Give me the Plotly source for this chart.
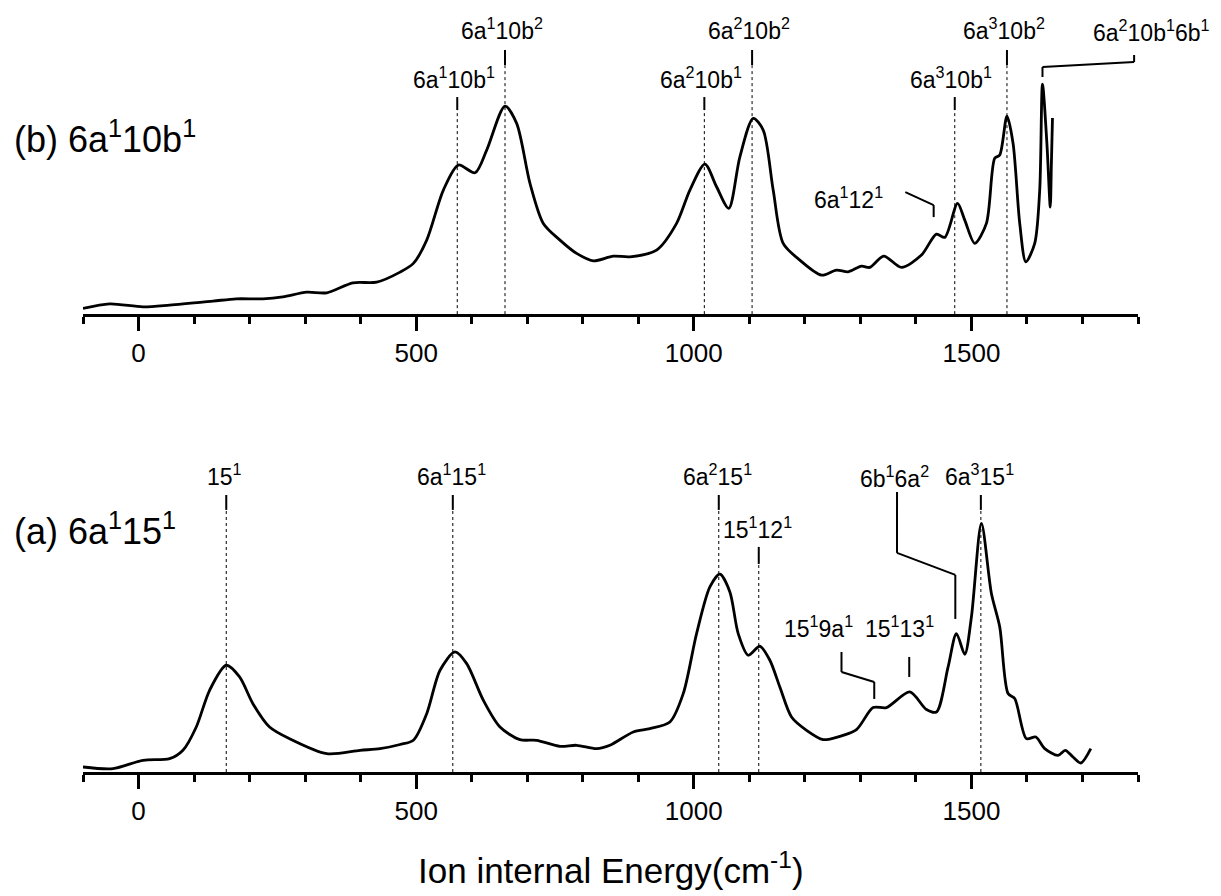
import plotly.graph_objects as go

# ---------------- data ----------------
# (b) 6a1 10b1 spectrum : ion internal energy (cm-1) vs intensity (a.u.)
E_b = [-100, -52, 8, 56, 134, 176, 224, 260, 303, 339, 386, 429, 471, 495, 519, 549, 576, 606,
       627, 660, 681, 705, 729, 759, 789, 819, 855, 885, 933, 969, 993, 1020, 1041, 1063, 1083,
       1107, 1125, 1143, 1161, 1191, 1230, 1257, 1278, 1302, 1317, 1342, 1374, 1410, 1437, 1452,
       1475, 1488, 1506, 1527, 1542, 1551, 1564, 1575, 1587, 1598, 1614, 1623, 1628, 1636, 1642, 1644, 1646]
I_b = [5.7, 10.3, 7.3, 9, 13, 15.3, 15.3, 17.3, 22, 21.3, 31.3, 32, 42, 50.7, 74, 124, 149, 141.3,
       164, 208, 190.7, 130.7, 90.7, 74, 60.7, 53.3, 58, 57.3, 64, 90.7, 124, 150, 127.3, 105.7, 157.3,
       195.7, 184, 124, 70.7, 54, 39, 44, 42.3, 48, 46.7, 58, 46.7, 59, 80, 76.7,
       110.7, 94, 70.7, 90.7, 155.7, 159, 198, 170.7, 90.7, 52.3, 70.7, 124, 230, 170, 107, 150, 196]

# (a) 6a1 15 1 spectrum
E_a = [-100, -46, 8, 56, 80, 104, 128, 158, 182, 206, 236, 272, 339, 399, 435, 471, 495, 519, 543,
       570, 591, 621, 651, 687, 717, 759, 789, 825, 849, 891, 921, 957, 981, 1005, 1029, 1047, 1065,
       1080, 1098, 1119, 1137, 1155, 1176, 1203, 1233, 1263, 1293, 1323, 1347, 1389, 1419, 1437,
       1458, 1473, 1488, 1500, 1518, 1536, 1551, 1566, 1578, 1599, 1616, 1632, 1656, 1669, 1683, 1697, 1715]
I_a = [5, 3.3, 11.7, 13.3, 21.7, 45, 81.7, 106.7, 95, 68.3, 45, 33.3, 18.3, 21.7, 23.3, 27.5, 31.7, 58.3, 101.7,
       120, 108.3, 71.7, 45, 32.3, 31.7, 25.7, 26.7, 23.3, 26.7, 40, 43.3, 50, 78.3, 138.3, 185, 197.7, 180,
       138.3, 116.7, 125.7, 111.7, 85, 55, 41.7, 32.4, 35.7, 42.4, 64.4, 64.4, 80, 62.4, 60,
       105, 138.4, 117.7, 155, 248.4, 178.4, 145, 78.4, 73.4, 33.4, 35, 23.4, 16.7, 21.7, 15, 9, 23.4]

# assignments with dotted guide lines
top_labels = ["6a<sup>1</sup>10b<sup>1</sup>", "6a<sup>1</sup>10b<sup>2</sup>", "6a<sup>2</sup>10b<sup>1</sup>",
              "6a<sup>2</sup>10b<sup>2</sup>", "6a<sup>3</sup>10b<sup>1</sup>", "6a<sup>3</sup>10b<sup>2</sup>"]
top_E = [574, 660, 1019, 1105, 1470, 1564]
top_row = [0, 1, 0, 1, 0, 1]          # 0 = lower row, 1 = upper row

bot_labels = ["15<sup>1</sup>", "6a<sup>1</sup>15<sup>1</sup>", "6a<sup>2</sup>15<sup>1</sup>",
              "15<sup>1</sup>12<sup>1</sup>", "6a<sup>3</sup>15<sup>1</sup>"]
bot_E = [158, 566, 1045, 1117, 1517]
bot_row = [1, 1, 1, 0, 1]

# ---------------- figure ----------------
W, H = 1221, 896
L, R, T, B = 83.2, 82.8, 0, 124.3
AX_TOP_PX, AX_BOT_PX = 314, 771.7
ph = H - T - B
pw = W - L - R
top_dom0 = (H - B - AX_TOP_PX) / ph
bot_dom1 = (H - B - 440) / ph
ytop_max = AX_TOP_PX - T
ybot_max = AX_BOT_PX - 440

FONT = "Arial, Liberation Sans, sans-serif"
fig = go.Figure()
line = dict(color="black", width=2.8, shape="spline", smoothing=0.8)
fig.add_trace(go.Scatter(x=E_b, y=I_b, mode="lines", line=line, xaxis="x2", yaxis="y2", hoverinfo="skip"))
fig.add_trace(go.Scatter(x=E_a, y=I_a, mode="lines", line=line, xaxis="x", yaxis="y", hoverinfo="skip"))

xax = dict(range=[-100, 1800], showline=True, linewidth=3, linecolor="black", ticks="outside",
           ticklen=14, tickwidth=3, tickcolor="black", tick0=0, dtick=500, showgrid=False, zeroline=False,
           minor=dict(dtick=100, ticks="outside", ticklen=7, tickwidth=3, tickcolor="black", showgrid=False),
           tickfont=dict(family=FONT, size=26, color="black"))
fig.update_layout(
    width=W, height=H, margin=dict(l=L, r=R, t=T, b=B),
    paper_bgcolor="white", plot_bgcolor="white", showlegend=False,
    xaxis=dict(xax, domain=[0, 1], anchor="y"),
    yaxis=dict(domain=[0, bot_dom1], range=[0, ybot_max], visible=False),
    xaxis2=dict(xax, domain=[0, 1], anchor="y2"),
    yaxis2=dict(domain=[top_dom0, 1], range=[0, ytop_max], visible=False),
)

shapes, annots = [], []
def seg(x0, y0, x1, y1, ax, dash=None, width=2):
    xr, yr = ("x2", "y2") if ax == "top" else ("x", "y")
    ln = dict(color="black", width=width)
    if dash:
        ln["dash"] = dash
    shapes.append(dict(type="line", xref=xr, yref=yr, x0=x0, y0=y0, x1=x1, y1=y1, line=ln))
def txt(x, y, s, ax, size=23, xanchor="center", xref=None):
    xr, yr = ("x2", "y2") if ax == "top" else ("x", "y")
    annots.append(dict(x=x, y=y, xref=xref or xr, yref=yr, text=s, showarrow=False, xanchor=xanchor,
                       yanchor="middle", font=dict(family=FONT, size=size, color="black")))

# top panel rows (heights above the axis)
top_tick = {0: (204, 217), 1: (249, 264)}
top_text = {0: 236, 1: 285}
for lab, e, r in zip(top_labels, top_E, top_row):
    lo, hi = top_tick[r]
    seg(e, 0, e, lo, "top", dash="dot", width=1)
    seg(e, lo, e, hi, "top")
    txt(e - 6, top_text[r], lab, "top")
# 6a2 10b1 6b1 leader (label sits beyond the axis end, so it is placed in paper units)
seg(1628, 237, 1628, 247, "top"); seg(1628, 247, 1793, 252, "top"); seg(1793, 252, 1793, 259, "top")
txt((1151.6 - L) / pw, 283, "6a<sup>2</sup>10b<sup>1</sup>6b<sup>1</sup>", "top", xref="paper")
# 6a1 12 1 leader
seg(1381, 122, 1432, 109, "top"); seg(1432, 109, 1432, 97, "top")
txt(1278, 116, "6a<sup>1</sup>12<sup>1</sup>", "top")

# bottom panel
bot_tick = {0: (208, 225), 1: (262, 277)}
bot_text = {0: 244, 1: 297}
for lab, e, r in zip(bot_labels, bot_E, bot_row):
    lo, hi = bot_tick[r]
    seg(e, 0, e, lo, "bot", dash="dot", width=1)
    seg(e, lo, e, hi, "bot")
    txt(e - 3, bot_text[r], lab, "bot")
# 6b1 6a2 leader
seg(1366, 280, 1366, 219, "bot"); seg(1366, 219, 1471, 197, "bot"); seg(1471, 197, 1471, 153, "bot")
txt(1362, 295, "6b<sup>1</sup>6a<sup>2</sup>", "bot")
# 15 1 9a1 leader
seg(1266, 120, 1266, 100, "bot"); seg(1266, 100, 1325, 90, "bot"); seg(1325, 90, 1325, 73, "bot")
txt(1224, 145, "15<sup>1</sup>9a<sup>1</sup>", "bot")
# 15 1 13 1 tick
seg(1388, 95, 1388, 115, "bot")
txt(1371, 145, "15<sup>1</sup>13<sup>1</sup>", "bot")

# panel labels
annots.append(dict(x=(12 - L) / pw, y=177, xref="paper", yref="y2", xanchor="left", yanchor="middle",
                   text="(b) 6a<sup>1</sup>10b<sup>1</sup>", showarrow=False, font=dict(family=FONT, size=36, color="black")))
annots.append(dict(x=(12 - L) / pw, y=243, xref="paper", yref="y", xanchor="left", yanchor="middle",
                   text="(a) 6a<sup>1</sup>15<sup>1</sup>", showarrow=False, font=dict(family=FONT, size=36, color="black")))
# x-axis title
annots.append(dict(x=0.5, y=(H - B - 868) / ph, xref="paper", yref="paper", xanchor="center", yanchor="middle",
                   text="Ion internal Energy(cm<sup>-1</sup>)", showarrow=False,
                   font=dict(family=FONT, size=35, color="black")))

fig.update_layout(shapes=shapes, annotations=annots)
fig.write_html("out.html")
